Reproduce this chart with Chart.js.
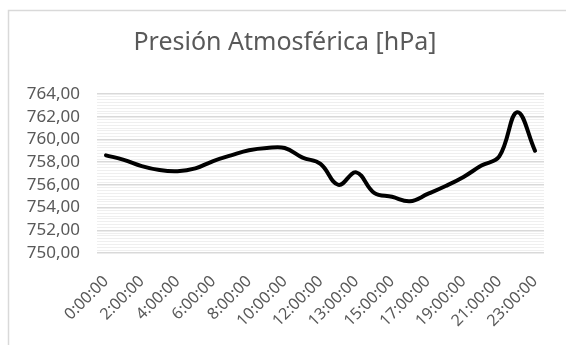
<!DOCTYPE html>
<html>
<head>
<meta charset="utf-8">
<script src="https://cdn.jsdelivr.net/npm/chart.js@4"></script>
<style>
  html, body { margin: 0; padding: 0; background: #fff; }
  #wrap { width: 566px; height: 345px; }
</style>
</head>
<body>
<div id="wrap"><canvas id="presionChart" width="566" height="345"></canvas></div>
<script>
// horas (la de 12:30 no lleva etiqueta en el eje)
var horas = ['0:00:00', '1:00:00', '2:00:00', '3:00:00', '4:00:00', '5:00:00', '6:00:00',
             '7:00:00', '8:00:00', '9:00:00', '10:00:00', '11:00:00', '12:00:00', '12:30:00',
             '13:00:00', '14:00:00', '15:00:00', '16:00:00', '17:00:00', '18:00:00',
             '19:00:00', '20:00:00', '21:00:00', '22:00:00', '23:00:00'];
var presion = [758.6, 758.2, 757.65, 757.3, 757.2, 757.45, 758.1, 758.6, 759.05, 759.25,
               759.25, 758.4, 757.85, 756.0, 757.1, 755.3, 754.95, 754.55, 755.2, 755.9,
               756.7, 757.7, 758.5, 762.4, 759.0];
var titulo = 'Presión Atmosférica [hPa]';
var yMin = 750, yMax = 764, yMajor = 2, yMinor = 0.25;

var gris = '#595959';

// marco (solo arriba e izquierda, como en el recorte) y titulo
var marco = {
    id: 'marco',
    beforeDraw: function (chart) {
        var ctx = chart.ctx;
        ctx.save();
        ctx.strokeStyle = '#d9d9d9';
        ctx.lineWidth = 1.5;
        ctx.beginPath();
        ctx.moveTo(8.5, 345);
        ctx.lineTo(8.5, 10.5);
        ctx.lineTo(566, 10.5);
        ctx.stroke();

        ctx.fillStyle = gris;
        ctx.font = '25px "Noto Sans"';
        ctx.textAlign = 'center';
        ctx.textBaseline = 'middle';
        ctx.fillText(titulo, 285, 43);
        ctx.restore();
    }
};

var ctx = document.getElementById('presionChart');
var presionChart = new Chart(ctx, {
    type: 'line',
    data: {
        labels: horas,
        datasets: [{
            label: 'Presión',
            data: presion,
            borderColor: '#000000',
            borderWidth: 4,
            tension: 0.4,
            pointRadius: 0,
            fill: false,
            borderCapStyle: 'round',
            borderJoinStyle: 'round'
        }]
    },
    options: {
        responsive: false,
        animation: false,
        layout: {
            padding: { left: 0, right: 22, top: 94, bottom: 0 }
        },
        plugins: {
            legend: { display: false },
            tooltip: { enabled: false },
            title: { display: false }
        },
        scales: {
            x: {
                offset: true,
                grid: { display: false },
                border: { display: false },
                ticks: {
                    autoSkip: false,
                    maxRotation: 45,
                    minRotation: 45,
                    padding: 11,
                    color: gris,
                    font: { family: 'Noto Sans', size: 16 },
                    callback: function (val, i) {
                        return i % 2 === 0 ? horas[i] : '';
                    }
                },
                afterFit: function (scale) { scale.height = 92; }
            },
            y: {
                min: yMin,
                max: yMax,
                border: { display: false },
                grid: {
                    drawTicks: false,
                    color: function (c) {
                        var v = c.tick.value;
                        return Math.abs(v % yMajor) < 1e-6 ? '#d9d9d9' : '#efefef';
                    },
                    lineWidth: function (c) {
                        var v = c.tick.value;
                        return Math.abs(v % yMajor) < 1e-6 ? 1.5 : 1;
                    }
                },
                ticks: {
                    stepSize: yMinor,
                    maxTicksLimit: 100,
                    autoSkip: false,
                    padding: 17,
                    color: gris,
                    font: { family: 'Noto Sans', size: 17 },
                    callback: function (v) {
                        if (Math.abs(v % yMajor) > 1e-6) return '';
                        return v.toFixed(2).replace('.', ',');
                    }
                },
                afterFit: function (scale) { scale.width = 97; }
            }
        }
    },
    plugins: [marco]
});
</script>
</body>
</html>
